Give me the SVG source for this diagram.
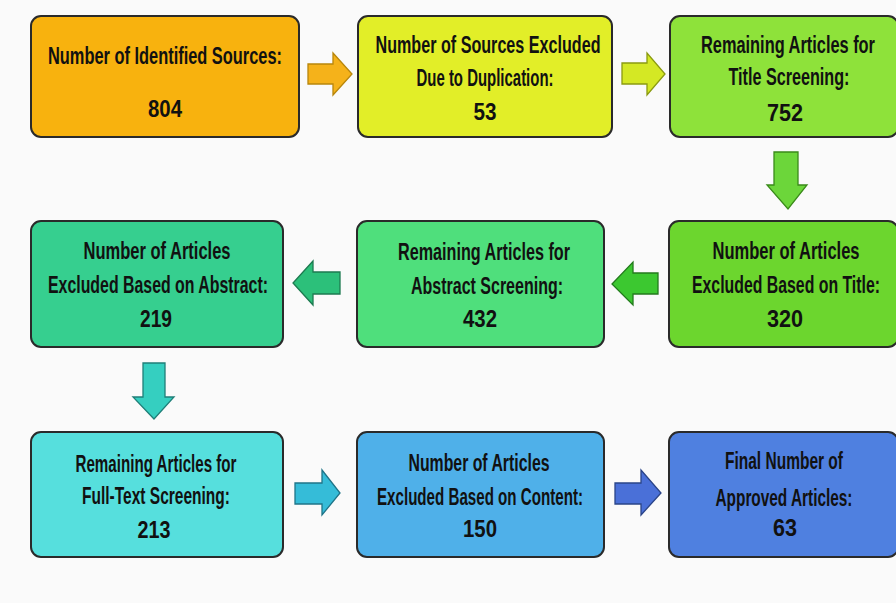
<svg xmlns="http://www.w3.org/2000/svg" width="896" height="603" viewBox="0 0 896 603">
<style>
.box{stroke:#2a2a2a;stroke-width:2}
.arr{stroke-width:1.3;stroke-linejoin:miter}
text{font-family:"Liberation Sans","DejaVu Sans",sans-serif;font-weight:bold;font-size:23px;fill:#111;text-anchor:middle}
</style>
<rect width="896" height="603" fill="#fafafa"/>
<g id="n1"><rect class="box" x="31" y="16" width="268" height="121" rx="10" fill="#f8b20e"/>
<text x="165" y="64" textLength="234" lengthAdjust="spacingAndGlyphs">Number of Identified Sources:</text>
<text x="165" y="117" textLength="34" lengthAdjust="spacingAndGlyphs">804</text></g>
<g id="n2"><rect class="box" x="358" y="16" width="254" height="121" rx="10" fill="#e2ee28"/>
<text x="488" y="53" textLength="225" lengthAdjust="spacingAndGlyphs">Number of Sources Excluded</text>
<text x="485" y="86" textLength="137" lengthAdjust="spacingAndGlyphs">Due to Duplication:</text>
<text x="485" y="120" textLength="23" lengthAdjust="spacingAndGlyphs">53</text></g>
<g id="n3"><rect class="box" x="670" y="16" width="228" height="121" rx="10" fill="#8ee23a"/>
<text x="788" y="53" textLength="174" lengthAdjust="spacingAndGlyphs">Remaining Articles for</text>
<text x="789" y="85" textLength="121" lengthAdjust="spacingAndGlyphs">Title Screening:</text>
<text x="785" y="121" textLength="36" lengthAdjust="spacingAndGlyphs">752</text></g>
<g id="n4"><rect class="box" x="31" y="221" width="252" height="126" rx="10" fill="#36cf8f"/>
<text x="157" y="259" textLength="147" lengthAdjust="spacingAndGlyphs">Number of Articles</text>
<text x="158" y="293" textLength="220" lengthAdjust="spacingAndGlyphs">Excluded Based on Abstract:</text>
<text x="156" y="327" textLength="32" lengthAdjust="spacingAndGlyphs">219</text></g>
<g id="n5"><rect class="box" x="357" y="221" width="247" height="126" rx="10" fill="#4fdf7c"/>
<text x="484" y="260" textLength="172" lengthAdjust="spacingAndGlyphs">Remaining Articles for</text>
<text x="487" y="294" textLength="152" lengthAdjust="spacingAndGlyphs">Abstract Screening:</text>
<text x="480" y="327" textLength="34" lengthAdjust="spacingAndGlyphs">432</text></g>
<g id="n6"><rect class="box" x="669" y="221" width="229" height="126" rx="10" fill="#6cd62e"/>
<text x="786" y="259" textLength="147" lengthAdjust="spacingAndGlyphs">Number of Articles</text>
<text x="786" y="293" textLength="188" lengthAdjust="spacingAndGlyphs">Excluded Based on Title:</text>
<text x="785" y="327" textLength="36" lengthAdjust="spacingAndGlyphs">320</text></g>
<g id="n7"><rect class="box" x="31" y="432" width="252" height="125" rx="10" fill="#56dfdd"/>
<text x="156" y="472" textLength="161" lengthAdjust="spacingAndGlyphs">Remaining Articles for</text>
<text x="156" y="504" textLength="148" lengthAdjust="spacingAndGlyphs">Full-Text Screening:</text>
<text x="154" y="538" textLength="33" lengthAdjust="spacingAndGlyphs">213</text></g>
<g id="n8"><rect class="box" x="357" y="432" width="247" height="125" rx="10" fill="#4fb0e9"/>
<text x="479" y="471" textLength="141" lengthAdjust="spacingAndGlyphs">Number of Articles</text>
<text x="480" y="505" textLength="206" lengthAdjust="spacingAndGlyphs">Excluded Based on Content:</text>
<text x="480" y="537" textLength="34" lengthAdjust="spacingAndGlyphs">150</text></g>
<g id="n9"><rect class="box" x="669" y="432" width="229" height="125" rx="10" fill="#4f80e0"/>
<text x="784" y="469" textLength="118" lengthAdjust="spacingAndGlyphs">Final Number of</text>
<text x="784" y="506" textLength="137" lengthAdjust="spacingAndGlyphs">Approved Articles:</text>
<text x="785" y="536" textLength="24" lengthAdjust="spacingAndGlyphs">63</text></g>
<g id="connectors">
<polygon class="arr" fill="#f5b21a" stroke="#b8860b" points="308,64 333,64 333,53 352,74 333,95 333,84 308,84"/>
<polygon class="arr" fill="#d4e824" stroke="#8a9a10" points="622,63 647,63 647,53 665,74 647,95 647,84 622,84"/>
<polygon class="arr" fill="#6cd63a" stroke="#3a8a1a" points="774,152 798,152 798,185 807,185 788,209 767,185 774,185"/>
<polygon class="arr" fill="#2cc07a" stroke="#1d7a50" points="340,272 313,272 313,261 293,283 313,305 313,294 340,294"/>
<polygon class="arr" fill="#3cc830" stroke="#237a1d" points="658,273 633,273 633,262 612,284 633,305 633,294 658,294"/>
<polygon class="arr" fill="#35cfc0" stroke="#1f7f78" points="143,363 165,363 165,397 174,397 154,419 133,397 143,397"/>
<polygon class="arr" fill="#35bcd8" stroke="#1f7488" points="295,483 322,483 322,470 340,493 322,515 322,504 295,504"/>
<polygon class="arr" fill="#4a70d8" stroke="#2a4488" points="615,483 641,483 641,470 661,493 641,515 641,504 615,504"/>
</g>
</svg>
